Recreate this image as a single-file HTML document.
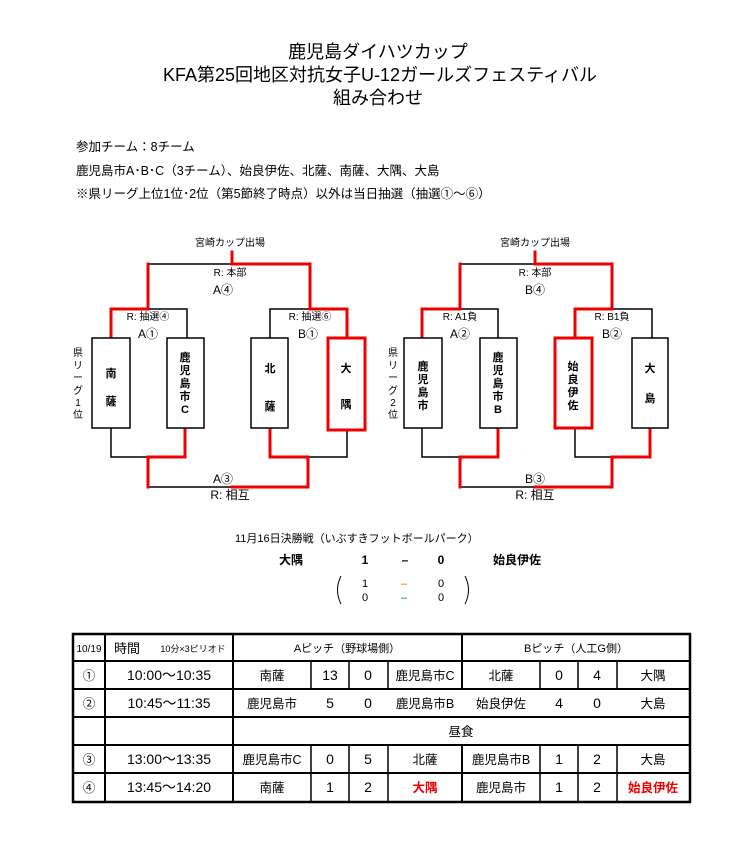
<!DOCTYPE html>
<html><head><meta charset="utf-8"><style>
body{margin:0;background:#fff;width:730px;height:863px;overflow:hidden}
svg{display:block;font-family:"Liberation Sans","Noto Sans CJK JP",sans-serif}
</style></head><body>
<svg width="730" height="863" viewBox="0 0 730 863" xmlns="http://www.w3.org/2000/svg">
<g font-size="18" text-anchor="middle" fill="#000">
<text x="378" y="58">鹿児島ダイハツカップ</text>
<text x="380" y="81">KFA第25回地区対抗女子U-12ガールズフェスティバル</text>
<text x="378" y="104">組み合わせ</text>
</g>
<g font-size="12.5" fill="#000">
<text x="76" y="151">参加チーム：8チーム</text>
<text x="76" y="175">鹿児島市A･B･C（3チーム）、始良伊佐、北薩、南薩、大隅、大島</text>
<text x="76" y="198">※県リーグ上位1位･2位（第5節終了時点）以外は当日抽選（抽選①～⑥）</text>
</g>

<g fill="none" stroke-linecap="square">
<g stroke="#000" stroke-width="1.5">
<path d="M148 264H232M148 309H187V338M270 338V309H310M111 428V457H148M148 487H232M308 457H347V428"/>
<path d="M460 264H535M460 309H498V338M652 338V309H612M422 428V457H460M460 487H535M575 428V457H612"/>
</g>
<g stroke="#e00" stroke-width="3">
<path d="M232 252V264H310V309H347V338M148 264V309H111V338M185 428V457H148V487M232 487H308V457H270V428"/>
<path d="M535 252V264H612V309H575V338M460 264V309H422V338M498 428V457H460V487M535 487H612V457H650V428"/>
</g>
<g stroke="#000" stroke-width="1.5" fill="#fff">
<rect x="92" y="338" width="38" height="90"/>
<rect x="167" y="338" width="37" height="90"/>
<rect x="251" y="338" width="37" height="90"/>
<rect x="404" y="338" width="38" height="90"/>
<rect x="480" y="338" width="37" height="90"/>
<rect x="632" y="338" width="36" height="90"/>
</g>
<g stroke="#e00" stroke-width="3" fill="#fff">
<rect x="328" y="338" width="37" height="92"/>
<rect x="555" y="338" width="37" height="90"/>
</g>
</g>
<g font-size="10" text-anchor="middle" fill="#000">
<text x="230" y="246">宮崎カップ出場</text>
<text x="230" y="276">R: 本部</text>
<text x="148" y="320">R: 抽選④</text>
<text x="310" y="320">R: 抽選⑥</text>
<text x="535" y="246">宮崎カップ出場</text>
<text x="535" y="276">R: 本部</text>
<text x="460" y="320">R: A1負</text>
<text x="612" y="320">R: B1負</text>
</g>
<g font-size="12" text-anchor="middle" fill="#000">
<text x="223" y="294">A④</text>
<text x="148" y="338">A①</text>
<text x="308" y="338">B①</text>
<text x="223" y="483">A③</text>
<text x="230" y="499">R: 相互</text>
<text x="535" y="294">B④</text>
<text x="460" y="338">A②</text>
<text x="612" y="338">B②</text>
<text x="535" y="483">B③</text>
<text x="535" y="499">R: 相互</text>
</g>
<g font-size="10" text-anchor="middle" fill="#000">
<text x="78" y="356">県</text><text x="78" y="369">リ</text><text x="78" y="381">ー</text><text x="78" y="394">グ</text><text x="78" y="406">1</text><text x="78" y="418">位</text>
<text x="393" y="356">県</text><text x="393" y="369">リ</text><text x="393" y="381">ー</text><text x="393" y="394">グ</text><text x="393" y="406">2</text><text x="393" y="418">位</text>
</g>
<g font-size="11" font-weight="bold" text-anchor="middle" fill="#000">
<text x="111" y="377">南</text><text x="111" y="405">薩</text>
<text x="185" y="361">鹿</text><text x="185" y="374">児</text><text x="185" y="387">島</text><text x="185" y="400">市</text><text x="185" y="413">C</text>
<text x="270" y="372">北</text><text x="270" y="410">薩</text>
<text x="346" y="372">大</text><text x="346" y="408">隅</text>
<text x="423" y="370">鹿</text><text x="423" y="383">児</text><text x="423" y="396">島</text><text x="423" y="409">市</text>
<text x="498" y="361">鹿</text><text x="498" y="374">児</text><text x="498" y="387">島</text><text x="498" y="400">市</text><text x="498" y="413">B</text>
<text x="573" y="370">始</text><text x="573" y="383">良</text><text x="573" y="396">伊</text><text x="573" y="409">佐</text>
<text x="650" y="372">大</text><text x="650" y="402">島</text>
</g>

<text x="235" y="542" font-size="11">11月16日決勝戦（いぶすきフットボールパーク）</text>
<g font-size="12" font-weight="bold" text-anchor="middle">
<text x="291" y="564">大隅</text><text x="365" y="564">1</text><text x="405" y="564">–</text><text x="441" y="564">0</text><text x="517" y="564">始良伊佐</text>
</g>
<g font-size="11" text-anchor="middle">
<text x="365" y="587">1</text><text x="404" y="587" fill="#c60">–</text><text x="441" y="587">0</text>
<text x="365" y="601">0</text><text x="404" y="601" fill="#080">–</text><text x="441" y="601">0</text>
</g>
<path d="M341 576Q334 590 341 604M465 576Q472 590 465 604" stroke="#000" fill="none" stroke-width="1"/>

<g stroke="#000" fill="none">
<rect x="73" y="634" width="617" height="168" stroke-width="2.5"/>
<path stroke-width="2" d="M73 661H690M73 689H690M73 717H690M73 745H690M73 773H690"/>
<path stroke-width="2" d="M105 634V802M233 634V802M462 634V689M462 745V802"/>
<path stroke-width="1.5" d="M311 661V689M349 661V689M388 661V689M540 661V689M578 661V689M617 661V689M311 745V802M349 745V802M388 745V802M540 745V802M578 745V802M617 745V802"/>
</g>
<g font-size="11" text-anchor="middle" fill="#000">
<text x="89" y="652" font-size="10">10/19</text>
<text x="127" y="653" font-size="13">時間</text>
<text x="193" y="652" font-size="9">10分×3ピリオド</text>
<text x="347" y="652">Aピッチ（野球場側）</text>
<text x="576" y="652">Bピッチ（人工G側）</text>
</g>
<g font-size="12.5" text-anchor="middle" fill="#000">
<text x="89" y="680">①</text><text x="169" y="680" font-size="14">10:00～10:35</text>
<text x="272" y="680">南薩</text><text x="330" y="680" font-size="14">13</text><text x="368" y="680" font-size="14">0</text><text x="425" y="680">鹿児島市C</text>
<text x="501" y="680">北薩</text><text x="559" y="680" font-size="14">0</text><text x="597" y="680" font-size="14">4</text><text x="653" y="680">大隅</text>
<text x="89" y="708">②</text><text x="169" y="708" font-size="14">10:45～11:35</text>
<text x="272" y="708">鹿児島市</text><text x="330" y="708" font-size="14">5</text><text x="368" y="708" font-size="14">0</text><text x="425" y="708">鹿児島市B</text>
<text x="501" y="708">始良伊佐</text><text x="559" y="708" font-size="14">4</text><text x="597" y="708" font-size="14">0</text><text x="653" y="708">大島</text>
<text x="461" y="736">昼食</text>
<text x="89" y="764">③</text><text x="169" y="764" font-size="14">13:00～13:35</text>
<text x="272" y="764">鹿児島市C</text><text x="330" y="764" font-size="14">0</text><text x="368" y="764" font-size="14">5</text><text x="425" y="764">北薩</text>
<text x="501" y="764">鹿児島市B</text><text x="559" y="764" font-size="14">1</text><text x="597" y="764" font-size="14">2</text><text x="653" y="764">大島</text>
<text x="89" y="792">④</text><text x="169" y="792" font-size="14">13:45～14:20</text>
<text x="272" y="792">南薩</text><text x="330" y="792" font-size="14">1</text><text x="368" y="792" font-size="14">2</text><text x="425" y="792" fill="#e00" font-weight="bold">大隅</text>
<text x="501" y="792">鹿児島市</text><text x="559" y="792" font-size="14">1</text><text x="597" y="792" font-size="14">2</text><text x="653" y="792" fill="#e00" font-weight="bold">始良伊佐</text>
</g>
</svg>
</body></html>
